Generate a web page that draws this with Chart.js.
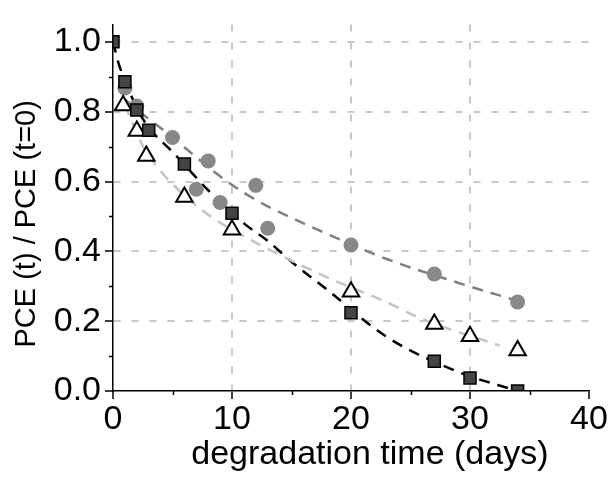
<!DOCTYPE html>
<html>
<head>
<meta charset="utf-8">
<script src="https://cdn.jsdelivr.net/npm/chart.js@4/dist/chart.umd.min.js"></script>
<style>
  html, body { margin: 0; padding: 0; background: #fff; }
</style>
</head>
<body>
<canvas id="chart" width="609" height="477"></canvas>
<script>
/* measured points */
const squareX = [0, 1, 2, 3, 6, 10, 20, 27, 30, 34];
const squareY = [1.0, 0.886, 0.805, 0.747, 0.650, 0.509, 0.224, 0.085, 0.037, 0.0];

const circleX = [1, 2, 5, 7, 8, 9, 12, 13, 20, 27, 34];
const circleY = [0.868, 0.816, 0.726, 0.578, 0.659, 0.540, 0.589, 0.466, 0.418, 0.335, 0.255];

const triangleX = [0.85, 2, 2.8, 6, 10, 20, 27, 30, 34];
const triangleY = [0.818, 0.745, 0.673, 0.556, 0.462, 0.284, 0.192, 0.157, 0.116];

/* dashed fit curves */
const fitBlackX = [0, 0.5, 1, 2, 3, 5, 8, 11, 13, 15, 18, 23, 29, 34];
const fitBlackY = [1.0, 0.935, 0.89, 0.81, 0.755, 0.685, 0.575, 0.48, 0.43, 0.37, 0.29, 0.155, 0.055, 0.0];

const fitGrayX = [1, 3, 4.2, 9, 11, 13, 15, 19, 23, 29, 34];
const fitGrayY = [0.835, 0.779, 0.748, 0.615, 0.568, 0.529, 0.496, 0.435, 0.378, 0.31, 0.258];

const fitLightX = [1, 1.46, 2.57, 3.7, 4.96, 8, 12, 14, 18.5, 22.5, 26, 32.5];
const fitLightY = [0.82, 0.782, 0.698, 0.643, 0.594, 0.505, 0.425, 0.39, 0.318, 0.262, 0.206, 0.13];

/* axis ticks */
const xMajor = [0, 10, 20, 30, 40];
const xMinor = [5, 15, 25, 35];
const yMajor = [0, 0.2, 0.4, 0.6, 0.8, 1.0];
const yMinor = [0.1, 0.3, 0.5, 0.7, 0.9];

const pts = (xs, ys) => xs.map((x, i) => ({ x, y: ys[i] }));

Chart.defaults.font.family = '"Liberation Sans", Arial, sans-serif';
Chart.defaults.color = '#000';

const minorTicks = {
  id: 'minorTicks',
  afterDraw(chart) {
    const { ctx, scales: { x, y } } = chart;
    ctx.save();
    ctx.strokeStyle = '#000';
    ctx.lineWidth = 1.5;
    ctx.beginPath();
    xMinor.forEach(v => {
      const px = Math.round(x.getPixelForValue(v)) + 0.5;
      ctx.moveTo(px, x.top);
      ctx.lineTo(px, x.top + 4);
    });
    yMinor.forEach(v => {
      const py = Math.round(y.getPixelForValue(v)) + 0.5;
      ctx.moveTo(y.right, py);
      ctx.lineTo(y.right - 4, py);
    });
    ctx.stroke();
    ctx.restore();
  }
};

function fitLine(data, color) {
  return {
    data, showLine: true, borderColor: color, borderWidth: 2.5,
    borderDash: [11, 8], pointRadius: 0, cubicInterpolationMode: 'monotone',
    clip: 0, order: 10
  };
}

const gridColor = (edge) => ctx =>
  (ctx.tick && edge.includes(ctx.tick.value)) ? 'rgba(0,0,0,0)' : '#c8c8c8';

new Chart(document.getElementById('chart'), {
  type: 'scatter',
  data: {
    datasets: [
      fitLine(pts(fitLightX, fitLightY), '#c4c4c4'),
      fitLine(pts(fitGrayX, fitGrayY), '#808080'),
      fitLine(pts(fitBlackX, fitBlackY), '#000'),
      {
        data: pts(circleX, circleY), pointStyle: 'circle', pointRadius: 7.5,
        backgroundColor: '#888', borderColor: '#888', borderWidth: 0, clip: 0, order: 3
      },
      {
        data: pts(triangleX, triangleY), pointStyle: 'triangle', pointRadius: 9.5,
        backgroundColor: '#fff', borderColor: '#000', borderWidth: 2, clip: 0, order: 2
      },
      {
        data: pts(squareX, squareY), pointStyle: 'rect', pointRadius: 8.5,
        backgroundColor: '#444', borderColor: '#000', borderWidth: 1.5, clip: 0, order: 1
      }
    ]
  },
  options: {
    responsive: false,
    animation: false,
    events: [],
    layout: { padding: { top: 14, right: 20, left: 0, bottom: 0 } },
    plugins: { legend: { display: false }, tooltip: { enabled: false } },
    scales: {
      x: {
        type: 'linear', min: 0, max: 40,
        afterBuildTicks: s => { s.ticks = xMajor.map(v => ({ value: v })); },
        afterFit: s => { s.height = 86; },
        ticks: { font: { size: 34 }, padding: 0, maxRotation: 0, autoSkip: false },
        grid: { color: gridColor([0, 40]), lineWidth: 2, tickLength: 8, tickColor: '#000', tickWidth: 1.5 },
        border: { display: true, color: '#000', width: 1.5, dash: [7, 11], z: 1 },
        // leading spaces nudge the label right, as in the original figure
        title: { display: true, text: '    degradation time (days)', font: { size: 34 }, padding: { top: 0, bottom: 2 } }
      },
      y: {
        type: 'linear', min: 0, max: 1.05,
        afterBuildTicks: s => { s.ticks = yMajor.map(v => ({ value: v })); },
        afterFit: s => { s.width = 113; },
        ticks: { font: { size: 34 }, padding: 4, callback: v => v.toFixed(1) },
        grid: { color: gridColor([0]), lineWidth: 2, tickLength: 8, tickColor: '#000', tickWidth: 1.5 },
        border: { display: true, color: '#000', width: 1.5, dash: [7, 11], z: 1 },
        title: { display: true, text: 'PCE (t) / PCE (t=0)    ', font: { size: 29 }, padding: { top: 10, bottom: 0 } }
      }
    }
  },
  plugins: [minorTicks]
});
</script>
</body>
</html>
